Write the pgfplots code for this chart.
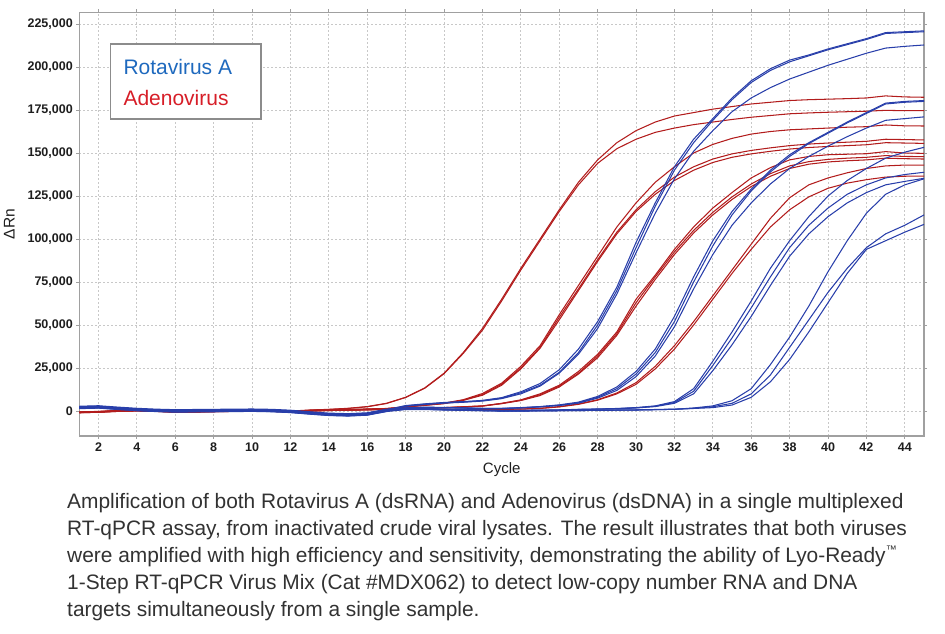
\documentclass[border=0pt]{standalone}
\usepackage{pgfplots}
\pgfplotsset{compat=1.18}
\usepackage{pgfplotstable}
\usepackage{fontspec}
\setmainfont{Liberation Sans}
\definecolor{bl}{RGB}{40,62,170}
\definecolor{rd}{RGB}{178,28,28}
\definecolor{legblue}{RGB}{30,105,190}
\definecolor{legred}{RGB}{215,30,40}
\definecolor{frame}{RGB}{160,160,160}
\definecolor{gridc}{RGB}{200,200,200}
\definecolor{capt}{RGB}{50,50,50}
\definecolor{tick}{RGB}{30,30,30}
% values in thousands of Delta Rn
\pgfplotstableread{
c b1a b1b b1c b2a b2b b2c b3a b3b b3c b4a b4b b4c r1a r1b r2a r2b r2c r3a r3b r3c r4a r4b
1 2.5 2.0 1.5 2.8 2.2 1.7 2.4 1.8 2.0 1.4 2.3 1.9 -0.6 -0.8 -1.0 -0.5 -0.8 -0.6 -0.9 -0.7 -1.0 -0.7
2 2.8 2.3 1.8 3.1 2.5 2.0 2.7 2.1 2.3 1.7 2.6 2.2 -0.3 -0.5 -0.7 -0.2 -0.5 -0.3 -0.6 -0.4 -0.7 -0.4
3 2.0 1.5 1.0 2.3 1.7 1.2 1.9 1.3 1.5 0.9 1.8 1.4 0.2 0.0 -0.2 0.3 0.0 0.2 -0.1 0.1 -0.2 0.1
4 1.3 0.8 0.3 1.6 1.0 0.5 1.2 0.6 0.8 0.2 1.1 0.7 0.5 0.3 0.1 0.6 0.3 0.5 0.2 0.4 0.1 0.4
5 0.8 0.3 -0.2 1.1 0.5 0.0 0.7 0.1 0.3 -0.3 0.6 0.2 0.2 0.0 -0.2 0.3 0.0 0.2 -0.1 0.1 -0.2 0.1
6 0.5 0.0 -0.5 0.8 0.2 -0.3 0.4 -0.2 0.0 -0.6 0.3 -0.1 -0.3 -0.5 -0.7 -0.2 -0.5 -0.3 -0.6 -0.4 -0.7 -0.4
7 0.6 0.1 -0.4 0.9 0.3 -0.2 0.5 -0.1 0.1 -0.5 0.4 0.0 -0.2 -0.4 -0.6 -0.1 -0.4 -0.2 -0.5 -0.3 -0.6 -0.3
8 0.7 0.2 -0.3 1.0 0.4 -0.1 0.6 0.0 0.2 -0.4 0.5 0.1 0.0 -0.2 -0.4 0.1 -0.2 0.0 -0.3 -0.1 -0.4 -0.1
9 0.8 0.3 -0.2 1.1 0.5 0.0 0.7 0.1 0.3 -0.3 0.6 0.2 0.2 0.0 -0.2 0.3 0.0 0.2 -0.1 0.1 -0.2 0.1
10 0.9 0.4 -0.1 1.2 0.6 0.1 0.8 0.2 0.4 -0.2 0.7 0.3 0.4 0.2 0.0 0.5 0.2 0.4 0.1 0.3 0.0 0.3
11 0.7 0.2 -0.3 1.0 0.4 -0.1 0.6 0.0 0.2 -0.4 0.5 0.1 0.2 0.0 -0.2 0.3 0.0 0.2 -0.1 0.1 -0.2 0.1
12 0.2 -0.3 -0.8 0.5 -0.1 -0.6 0.1 -0.5 -0.3 -0.9 0.0 -0.4 0.0 -0.2 -0.4 0.1 -0.2 0.0 -0.3 -0.1 -0.4 -0.1
13 -0.7 -1.2 -1.7 -0.4 -1.0 -1.5 -0.8 -1.4 -1.2 -1.8 -0.9 -1.3 0.6 0.5 0.4 0.3 0.3 0.2 0.2 0.1 0.0 0.1
14 -1.5 -2.0 -2.5 -1.2 -1.8 -2.3 -1.6 -2.2 -2.0 -2.6 -1.7 -2.1 1.0 0.9 0.7 0.6 0.6 0.5 0.4 0.4 0.3 0.3
15 -1.8 -2.3 -2.8 -1.5 -2.1 -2.6 -1.9 -2.5 -2.3 -2.9 -2.0 -2.4 1.6 1.5 0.9 0.8 0.8 0.7 0.6 0.6 0.5 0.5
16 -1.3 -1.8 -2.3 -1.0 -1.6 -2.1 -1.4 -2.0 -1.8 -2.4 -1.5 -1.9 2.6 2.5 1.2 1.1 1.1 0.9 0.9 0.8 0.7 0.7
17 0.8 0.3 -0.2 1.1 0.5 0.0 0.7 0.1 0.3 -0.3 0.6 0.2 4.5 4.4 1.5 1.4 1.4 1.2 1.1 1.1 1.0 0.9
18 3.2 3.0 2.8 1.9 1.7 1.6 1.3 1.1 1.2 0.9 1.1 1.0 8.0 7.9 2.5 2.4 2.3 1.5 1.5 1.4 1.0 1.0
19 4.2 4.0 3.8 2.3 2.1 2.0 1.4 1.2 1.3 0.9 1.1 1.0 13.5 13.3 3.5 3.4 3.3 1.8 1.8 1.7 1.0 1.0
20 5.0 4.8 4.6 2.1 2.0 1.9 1.1 0.9 1.0 0.6 0.8 0.7 22.0 21.7 4.6 4.4 4.3 2.0 2.0 1.9 1.0 1.0
21 5.5 5.3 5.1 1.9 1.8 1.7 0.9 0.7 0.8 0.4 0.6 0.5 34.0 33.5 6.6 6.4 6.2 2.5 2.4 2.4 1.0 1.0
22 6.2 6.0 5.8 1.6 1.5 1.4 0.6 0.4 0.5 0.2 0.3 0.2 48.0 47.0 10.2 9.6 9.2 3.0 2.9 2.9 1.0 1.0
23 7.8 7.5 7.2 1.6 1.5 1.4 0.4 0.3 0.3 0.0 0.1 0.0 65.0 64.0 16.2 15.6 15.0 4.5 4.4 4.3 1.1 1.0
24 11.2 10.6 10.0 2.0 1.9 1.8 0.4 0.4 0.3 0.0 0.1 0.0 83.0 82.0 26.0 25.0 24.5 6.5 6.3 6.1 1.2 1.1
25 16.0 15.0 14.5 2.6 2.5 2.4 0.5 0.5 0.4 0.1 0.2 0.1 100.0 99.0 38.0 37.0 36.5 10.0 9.5 9.0 1.6 1.5
26 24.0 22.5 22.0 3.6 3.4 3.2 0.7 0.6 0.6 0.2 0.3 0.2 117.0 116.0 56.0 54.5 53.0 15.0 14.5 14.0 2.6 2.4
27 36.0 34.0 33.0 5.2 4.8 4.6 1.0 0.9 0.9 0.3 0.4 0.3 133.0 131.5 73.0 71.0 70.0 23.0 22.0 21.5 4.1 3.9
28 52.0 50.0 48.0 8.5 8.0 7.5 1.2 1.1 1.1 0.4 0.5 0.4 146.0 144.0 90.0 88.0 87.0 33.0 32.0 31.0 6.6 6.3
29 72.0 70.0 68.0 14.0 13.0 12.0 1.5 1.4 1.3 0.5 0.6 0.5 156.0 152.5 107.0 104.0 103.0 46.0 45.0 44.0 10.5 10.0
30 98.0 95.0 92.0 23.0 21.5 20.0 2.0 1.9 1.8 0.6 0.7 0.6 163.0 158.0 121.0 117.0 116.0 65.0 63.0 61.0 16.5 15.5
31 121.0 119.0 115.0 36.0 34.0 32.0 3.0 2.8 2.6 0.8 0.9 0.8 168.0 162.0 133.0 127.5 126.0 79.0 78.0 76.5 26.0 24.5
32 142.0 140.0 135.0 55.0 52.0 49.0 5.5 5.0 4.5 1.0 1.1 1.0 171.5 164.5 142.0 136.0 134.0 94.0 92.5 91.0 38.0 36.0
33 158.0 156.0 151.0 78.0 75.0 71.0 13.0 11.5 10.0 1.8 1.6 1.5 173.5 166.5 150.0 142.0 140.0 107.0 105.0 103.5 52.0 50.0
34 170.0 169.0 163.0 99.0 96.0 91.0 29.0 26.5 23.5 3.0 2.5 2.0 175.5 168.0 155.0 146.5 144.5 118.0 115.5 114.0 67.0 65.0
35 182.0 181.0 174.0 116.0 114.0 108.0 46.0 42.5 38.5 6.0 4.5 3.5 177.0 169.5 158.5 149.5 147.5 127.0 124.5 123.0 82.0 80.0
36 192.0 191.0 182.0 129.0 128.0 121.0 64.0 60.0 55.0 13.0 10.0 8.0 178.5 170.8 161.0 151.5 149.5 135.5 132.0 130.5 97.0 94.0
37 199.0 198.0 188.0 140.0 139.0 132.0 83.0 78.0 73.0 27.0 21.0 17.0 179.5 171.8 162.5 153.0 151.0 141.5 138.0 136.5 112.0 107.0
38 204.0 203.0 193.0 149.0 148.0 141.0 99.0 95.0 90.0 43.0 37.0 30.0 180.5 172.8 163.5 154.3 152.3 146.0 142.5 141.0 124.0 117.0
39 207.0 206.5 197.0 156.0 155.5 148.0 113.0 108.0 103.0 61.0 53.0 46.0 181.0 173.3 164.0 155.2 153.2 148.0 145.0 143.5 131.5 124.5
40 210.5 210.0 201.0 162.0 161.5 154.0 125.0 118.0 113.0 81.0 69.0 63.0 181.3 173.7 164.5 155.8 153.8 149.0 146.3 144.8 135.5 129.5
41 213.5 213.0 204.5 168.0 167.5 159.5 134.0 126.0 121.0 99.0 83.0 80.0 181.6 174.0 165.0 156.3 154.3 149.3 147.0 145.5 138.5 132.5
42 216.5 216.0 208.0 173.5 173.0 164.5 141.0 131.5 127.0 115.0 95.0 94.0 182.0 174.3 165.3 156.8 154.8 149.6 147.5 146.0 141.0 134.5
43 220.0 219.5 211.0 179.0 178.5 169.0 147.0 135.5 131.5 126.0 103.0 99.0 183.2 174.8 166.3 158.0 156.0 150.8 148.5 147.0 142.5 136.0
44 220.5 220.0 212.0 180.0 179.5 170.0 150.5 137.5 133.5 131.5 108.0 104.0 182.6 174.6 165.8 157.8 155.8 150.0 148.0 146.7 143.0 136.5
45 221.0 220.5 212.8 180.5 180.0 171.0 153.3 138.8 135.3 135.0 114.0 108.5 182.4 174.6 165.7 157.6 155.6 149.8 147.9 146.5 143.0 136.6
}\qpcr

\begin{document}
\begin{tikzpicture}
\useasboundingbox (-79.3pt,-198pt) rectangle (865.7pt,436pt);
\begin{axis}[
  at={(0pt,0pt)}, anchor=south west,
  scale only axis, width=844.7pt, height=423.7pt,
  xmin=1, xmax=45, ymin=-14.5, ymax=231.8,
  xtick={2,4,...,44},
  ytick={0,25,50,75,100,125,150,175,200,225},
  yticklabels={0,{25,000},{50,000},{75,000},{100,000},{125,000},{150,000},{175,000},{200,000},{225,000}},
  /pgf/number format/assume math mode=true,
  grid=major,
  major grid style={draw=gridc, line width=0.8pt, dash pattern=on 1.5pt off 2.5pt},
  axis line style={draw=frame, line width=1.1pt},
  tick align=outside, major tick length=3pt,
  tick style={draw=frame, line width=0.8pt},
  ticklabel style={font=\fontsize{12.5}{14}\selectfont\bfseries, text=tick},
  clip=true,
  every axis plot/.append style={line width=1.05pt, no markers, line join=round},
]
\addplot[rd] table[x=c,y=r4b]{\qpcr};
\addplot[rd] table[x=c,y=r4a]{\qpcr};
\addplot[rd] table[x=c,y=r3c]{\qpcr};
\addplot[rd] table[x=c,y=r3b]{\qpcr};
\addplot[rd] table[x=c,y=r3a]{\qpcr};
\addplot[rd] table[x=c,y=r2c]{\qpcr};
\addplot[rd] table[x=c,y=r2b]{\qpcr};
\addplot[rd] table[x=c,y=r2a]{\qpcr};
\addplot[rd] table[x=c,y=r1b]{\qpcr};
\addplot[rd] table[x=c,y=r1a]{\qpcr};
\addplot[bl] table[x=c,y=b4c]{\qpcr};
\addplot[bl] table[x=c,y=b4b]{\qpcr};
\addplot[bl] table[x=c,y=b4a]{\qpcr};
\addplot[bl] table[x=c,y=b3c]{\qpcr};
\addplot[bl] table[x=c,y=b3b]{\qpcr};
\addplot[bl] table[x=c,y=b3a]{\qpcr};
\addplot[bl] table[x=c,y=b2c]{\qpcr};
\addplot[bl] table[x=c,y=b2b]{\qpcr};
\addplot[bl] table[x=c,y=b2a]{\qpcr};
\addplot[bl] table[x=c,y=b1c]{\qpcr};
\addplot[bl] table[x=c,y=b1b]{\qpcr};
\addplot[bl] table[x=c,y=b1a]{\qpcr};
\end{axis}
% legend box
\draw[draw={rgb,255:red,140;green,140;blue,140}, line width=1.2pt, fill=white] (31.4pt,317pt) rectangle (181.7pt,392pt);
\node[anchor=base west, inner sep=0pt, text=legblue, font=\fontsize{21}{21}\selectfont] at (44pt,361pt) {Rotavirus A};
\node[anchor=base west, inner sep=0pt, text=legred, font=\fontsize{21}{21}\selectfont] at (44pt,330pt) {Adenovirus};
% axis labels
\node[rotate=90, inner sep=0pt, font=\fontsize{15.5}{16}\selectfont, text=tick] at (-70pt,212pt) {ΔRn};
\node[anchor=base, inner sep=0pt, font=\fontsize{15}{16}\selectfont, text=tick] at (422.4pt,-38pt) {Cycle};
% caption
\begin{scope}[every node/.style={anchor=base west, inner sep=0pt, text=capt, font=\fontsize{20.9}{26}\selectfont}]
\node at (-12.3pt,-73pt) {Amplification of both Rotavirus A (dsRNA) and Adenovirus (dsDNA) in a single multiplexed};
\node at (-12.3pt,-99.75pt) {RT-qPCR assay, from inactivated crude viral lysates. The result illustrates that both viruses};
\node at (-12.3pt,-126.5pt) {were amplified with high efficiency and sensitivity, demonstrating the ability of Lyo-Ready{\fontsize{11}{11}\selectfont\raisebox{9.5pt}{™}}};
\node at (-12.3pt,-153.25pt) {1-Step RT-qPCR Virus Mix (Cat \#MDX062) to detect low-copy number RNA and DNA};
\node at (-12.3pt,-180pt) {targets simultaneously from a single sample.};
\end{scope}
\end{tikzpicture}
\end{document}
